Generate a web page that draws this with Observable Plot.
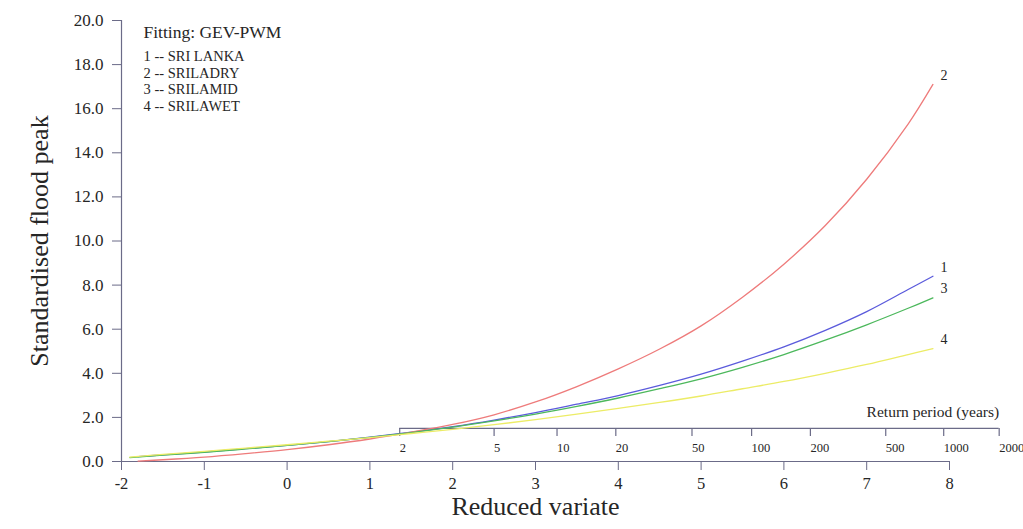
<!DOCTYPE html>
<html>
<head>
<meta charset="utf-8">
<script src="https://cdn.jsdelivr.net/npm/d3@7"></script>
<script src="https://cdn.jsdelivr.net/npm/@observablehq/plot@0.6"></script>
<style>
  html, body { margin: 0; padding: 0; background: #ffffff; }
  #chart { width: 1023px; height: 529px; }
</style>
</head>
<body>
<div id="chart"></div>
<script>
// ---------------- DATA ----------------
const seriesNumbers = ["1", "2", "3", "4"];
const seriesNames = ["SRI LANKA", "SRILADRY", "SRILAMID", "SRILAWET"];
const curveStart = [-1.8, -1.8, -1.9, -1.9];
const variate = [-1.5, -1, -0.5, 0, 0.5, 1, 1.5, 2, 2.5, 3, 3.5, 4, 4.5, 5, 5.5, 6, 6.5, 7, 7.5, 7.8];
// first value belongs to curveStart, the rest to variate
const sriLanka = [0.22, 0.30, 0.43, 0.58, 0.73, 0.90, 1.10, 1.33, 1.58, 1.88, 2.22, 2.60, 2.99, 3.45, 3.96, 4.55, 5.20, 5.95, 6.80, 7.80, 8.40];
const sriLaDry = [0.02, 0.08, 0.20, 0.36, 0.54, 0.76, 1.02, 1.33, 1.68, 2.12, 2.70, 3.40, 4.20, 5.10, 6.15, 7.45, 8.95, 10.70, 12.80, 15.30, 17.10];
const sriLaMid = [0.18, 0.29, 0.42, 0.57, 0.73, 0.90, 1.09, 1.31, 1.56, 1.84, 2.15, 2.50, 2.88, 3.30, 3.75, 4.27, 4.85, 5.50, 6.20, 6.95, 7.42];
const sriLaWet = [0.20, 0.32, 0.46, 0.61, 0.76, 0.92, 1.08, 1.27, 1.46, 1.67, 1.90, 2.15, 2.41, 2.68, 2.97, 3.30, 3.63, 4.00, 4.40, 4.85, 5.12];

const yTicks = [0, 2, 4, 6, 8, 10, 12, 14, 16, 18, 20];
const xTicks = [-2, -1, 0, 1, 2, 3, 4, 5, 6, 7, 8];

const returnPeriods = ["2", "5", "10", "20", "50", "100", "200", "500", "1000", "2000"];
const returnPeriodX = [1.36, 2.50, 3.26, 3.97, 4.89, 5.61, 6.32, 7.23, 7.93, 8.60];
const returnAxisLevel = 1.5;

const legendTitle = "Fitting: GEV-PWM";

// ---------------- STYLE ----------------
const seriesColors = ["#5b5bdc", "#ee7b7b", "#4cb85c", "#ecec66"];
const axisColor = "#6b6b88";
const textColor = "#262626";
const serif = "'Liberation Serif', 'Times New Roman', Times, serif";

// ---------------- BUILD ----------------
const allSeries = [sriLanka, sriLaDry, sriLaMid, sriLaWet];
const rows = [];
allSeries.forEach((vals, s) => {
  const xs = [curveStart[s], ...variate];
  xs.forEach((x, i) => rows.push({series: seriesNames[s], x, y: vals[i]}));
});
const ends = allSeries.map((vals, s) => ({
  num: seriesNumbers[s], x: variate[variate.length - 1], y: vals[vals.length - 1]
}));
const returnTicks = returnPeriods.map((t, i) => ({label: t, x: returnPeriodX[i]}));
const legendLines = seriesNames.map((n, i) => `${seriesNumbers[i]} -- ${n}`).join("\n");

const chart = Plot.plot({
  width: 1023,
  height: 529,
  marginTop: 20,
  marginBottom: 68,
  marginLeft: 121,
  marginRight: 74,
  style: {fontFamily: serif, color: textColor, background: "#ffffff", overflow: "visible"},
  x: {domain: [-2, 8], axis: null},
  y: {domain: [0, 20], axis: null},
  color: {domain: seriesNames, range: seriesColors},
  marks: [
    // main axes lines
    Plot.ruleX([xTicks[0]], {y1: yTicks[0], y2: yTicks[yTicks.length - 1], stroke: axisColor, strokeWidth: 1.2}),
    Plot.ruleY([yTicks[0]], {x1: xTicks[0], x2: xTicks[xTicks.length - 1], stroke: axisColor, strokeWidth: 1.2}),
    Plot.axisY(yTicks, {
      tickFormat: d => d.toFixed(1), tickSize: 9, tickPadding: 9,
      stroke: axisColor, fontSize: 17, label: null
    }),
    Plot.axisX(xTicks, {
      tickFormat: d => String(d), tickSize: 9, tickPadding: 7,
      stroke: axisColor, fontSize: 16.5, label: null
    }),
    // axis titles
    Plot.text(["Reduced variate"], {frameAnchor: "bottom", dy: 53, fontSize: 26, fill: textColor}),
    Plot.text(["Standardised flood peak"], {frameAnchor: "left", textAnchor: "middle", dx: -82, rotate: -90, fontSize: 26, fill: textColor}),
    // return period axis
    Plot.ruleY([returnAxisLevel], {x1: returnPeriodX[0], x2: returnPeriodX[returnPeriodX.length - 1], stroke: axisColor, strokeWidth: 1.2}),
    Plot.ruleX(returnTicks, {x: "x", y1: returnAxisLevel, y2: returnAxisLevel, insetTop: 8, stroke: axisColor, strokeWidth: 1.2}),
    Plot.text(returnTicks, {x: "x", y: returnAxisLevel, text: "label", textAnchor: "start", lineAnchor: "top", dy: 15, fontSize: 12.5, fill: textColor}),
    Plot.text(["Return period (years)"], {x: returnPeriodX[returnPeriodX.length - 1], y: returnAxisLevel, textAnchor: "end", lineAnchor: "bottom", dy: -11, fontSize: 15.5, fill: textColor}),
    // curves
    Plot.line(rows, {x: "x", y: "y", z: "series", stroke: "series", curve: "catmull-rom", strokeWidth: 1.3}),
    Plot.text(ends, {x: "x", y: "y", text: "num", dx: 11, dy: -9, fontSize: 14, fill: textColor}),
    // legend
    Plot.text([legendTitle], {frameAnchor: "top-left", dx: 22, dy: 17, lineAnchor: "bottom", textAnchor: "start", fontSize: 17.5, fill: textColor}),
    Plot.text([legendLines], {frameAnchor: "top-left", dx: 22, dy: 28.7, lineAnchor: "top", textAnchor: "start", fontSize: 14.5, lineHeight: 1.145, fill: textColor})
  ]
});
document.getElementById("chart").appendChild(chart);
</script>
</body>
</html>
